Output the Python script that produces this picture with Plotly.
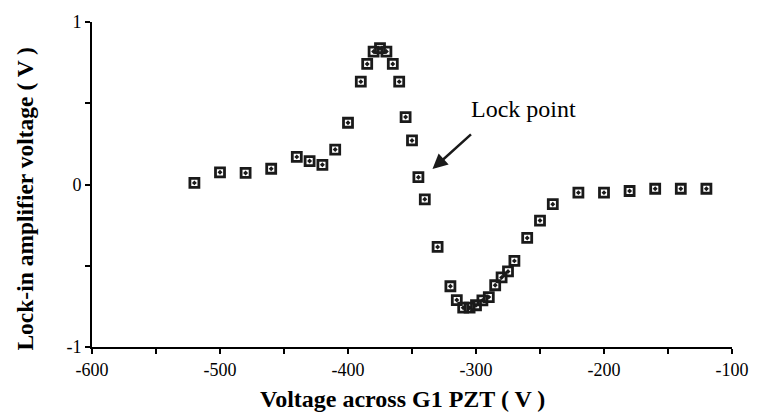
import plotly.graph_objects as go

# Data
volts = [-520, -500, -480, -460, -440, -430, -420, -410, -400, -390, -385, -380,
         -375, -370, -365, -360, -355, -350, -345, -340, -330, -320, -315, -310,
         -305, -300, -295, -290, -285, -280, -275, -270, -260, -250, -240, -220,
         -200, -180, -160, -140, -120]
signal = [0.01, 0.075, 0.071, 0.097, 0.17, 0.144, 0.121, 0.215, 0.38, 0.633, 0.742, 0.818,
          0.839, 0.818, 0.742, 0.633, 0.415, 0.271, 0.045, -0.091, -0.384, -0.626, -0.711, -0.758,
          -0.758, -0.743, -0.713, -0.693, -0.62, -0.572, -0.535, -0.47, -0.329, -0.222, -0.121, -0.05,
          -0.05, -0.04, -0.026, -0.026, -0.026]

x_tickvals = [-600, -550, -500, -450, -400, -350, -300, -250, -200, -150, -100]
x_ticktext = ["-600", "", "-500", "", "-400", "", "-300", "", "-200", "", "-100"]
y_tickvals = [-1, -0.5, 0, 0.5, 1]
y_ticktext = ["-1", "", "0", "", "1"]

FONT = "Liberation Serif, Times New Roman, serif"

fig = go.Figure()
fig.add_trace(go.Scatter(
    x=volts, y=signal, mode="markers",
    marker=dict(symbol="square-open-dot", size=9, color="#1a1a1a",
                line=dict(width=2.8, color="#1a1a1a")),
    showlegend=False, hoverinfo="x+y"))

axis_common = dict(showgrid=False, zeroline=False, showline=True, linecolor="black",
                   linewidth=2, ticks="outside", ticklen=5, tickwidth=2, tickcolor="black",
                   tickfont=dict(family=FONT, size=18, color="black"), mirror=False)

fig.update_xaxes(range=[-600, -100], tickvals=x_tickvals, ticktext=x_ticktext, **axis_common)
fig.update_yaxes(range=[-1, 1], tickvals=y_tickvals, ticktext=y_ticktext, **axis_common)

fig.update_layout(
    width=761, height=412,
    margin=dict(l=92, r=18, t=17, b=65),
    plot_bgcolor="white", paper_bgcolor="white",
    font=dict(family=FONT, color="black"),
    annotations=[
        dict(x=-334, y=0.095, xref="x", yref="y", ax=40, ay=-36, text="",
             showarrow=True, arrowhead=2, arrowsize=1.2, arrowwidth=2.5, arrowcolor="#1a1a1a"),
        dict(x=-263, y=0.465, xref="x", yref="y", text="Lock point", showarrow=False,
             font=dict(family=FONT, size=24, color="black")),
        dict(x=0.485, y=-0.161, xref="paper", yref="paper", text="<b>Voltage across G1 PZT ( V )</b>",
             showarrow=False, xanchor="center", yanchor="middle",
             font=dict(family=FONT, size=24, color="black")),
        dict(x=-0.104, y=0.458, xref="paper", yref="paper", text="<b>Lock-in amplifier voltage ( V )</b>",
             showarrow=False, textangle=-90, xanchor="center", yanchor="middle",
             font=dict(family=FONT, size=23.5, color="black")),
    ],
)

fig.write_html(
    "out.html",
    config={"displayModeBar": False},
    post_script=("document.body.style.margin='0';"
                 "document.body.style.overflow='hidden';"
                 "document.documentElement.style.overflow='hidden';"),
)
